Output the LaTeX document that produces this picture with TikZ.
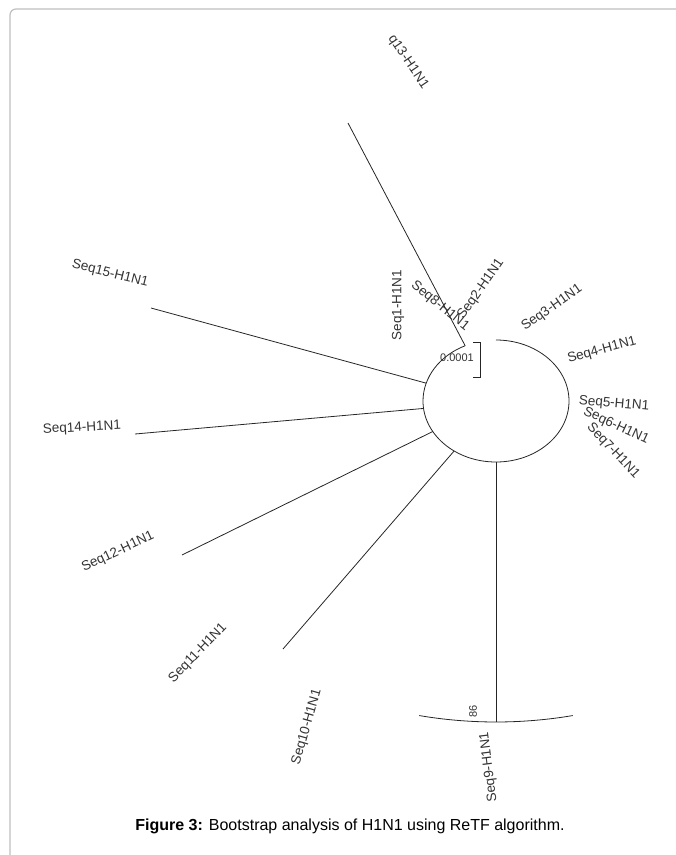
\documentclass[tikz,border=0pt]{standalone}
\usepackage{fontspec}
\setmainfont{Liberation Sans}
\begin{document}
\begin{tikzpicture}[
  x=1pt, y=1pt,
  leaf/.style={inner sep=0pt, font=\fontsize{13.5}{15}\selectfont, text=black!80},
  branch/.style={line width=0.8pt, black!85},
  smalllab/.style={inner sep=0pt, font=\fontsize{11}{12}\selectfont, text=black!80},
  frame/.style={draw=black!25, line width=1.2pt, rounded corners=6pt},
  captext/.style={font=\fontsize{16}{18}\selectfont}
]
\useasboundingbox (0,0) rectangle (676,-855);

% Frame
\draw[frame] (10,-870) -- (10,-9) -- (690,-9);

% Ring of the tree
\coordinate (c) at (496,-401);
\draw[branch] (c) ++(90:73 and 61) arc[start angle=90, end angle=-245, x radius=73, y radius=61];

% Branch roots and tips
\foreach \n/\a in {13/115, 15/163, 14/187, 12/210, 11/235, 9/270}
  \path (c) ++(\a:73 and 61) coordinate (r\n);
\coordinate (t13) at (348,-123);
\coordinate (t15) at (151,-308);
\coordinate (t14) at (135,-434);
\coordinate (t12) at (182,-555);
\coordinate (t11) at (283,-649);
\path (c) ++(270:321) coordinate (t9);

% Branches
\foreach \n in {13, 15, 14, 12, 11, 9}
  \draw[branch] (r\n) -- (t\n);
\draw[branch] (c) ++(258.5:385 and 321) arc[start angle=258.5, end angle=281.5, x radius=385, y radius=321];

% Scale bar
\coordinate (sb1) at (480,-342);
\coordinate (sb2) at (480,-377);
\draw[branch] ([xshift=-7pt]sb1) -- (sb1) -- (sb2) -- ([xshift=-7pt]sb2);
\node[smalllab] (sbl) at (457,-358) {0.0001};
\node[smalllab, rotate=90] (boot) at (473,-711) {86};

% Leaf labels
\node[leaf, rotate=-56] (l13) at (408,-62) {q13-H1N1};
\node[leaf, rotate=-14] (l15) at (110,-274) {Seq15-H1N1};
\node[leaf, rotate=3] (l14) at (82,-428) {Seq14-H1N1};
\node[leaf, rotate=25] (l12) at (118,-552) {Seq12-H1N1};
\node[leaf, rotate=46] (l11) at (198,-653) {Seq11-H1N1};
\node[leaf, rotate=74] (l10) at (307,-727) {Seq10-H1N1};
\node[leaf, rotate=97] (l9) at (489,-767) {Seq9-H1N1};
\node[leaf, rotate=90] (l1) at (398,-305) {Seq1-H1N1};
\node[leaf, rotate=-39] (l8) at (440,-306) {Seq8-H1N1};
\node[leaf, rotate=55] (l2) at (481,-289) {Seq2-H1N1};
\node[leaf, rotate=35] (l3) at (552,-308) {Seq3-H1N1};
\node[leaf, rotate=15] (l4) at (602,-350) {Seq4-H1N1};
\node[leaf, rotate=-5] (l5) at (614,-404) {Seq5-H1N1};
\node[leaf, rotate=-25] (l6) at (616,-426) {Seq6-H1N1};
\node[leaf, rotate=-47] (l7) at (613,-451) {Seq7-H1N1};

% Caption
\node[captext] (cap) at (350,-826) {\textbf{Figure 3:} Bootstrap analysis of H1N1 using ReTF algorithm.};

\end{tikzpicture}
\end{document}
